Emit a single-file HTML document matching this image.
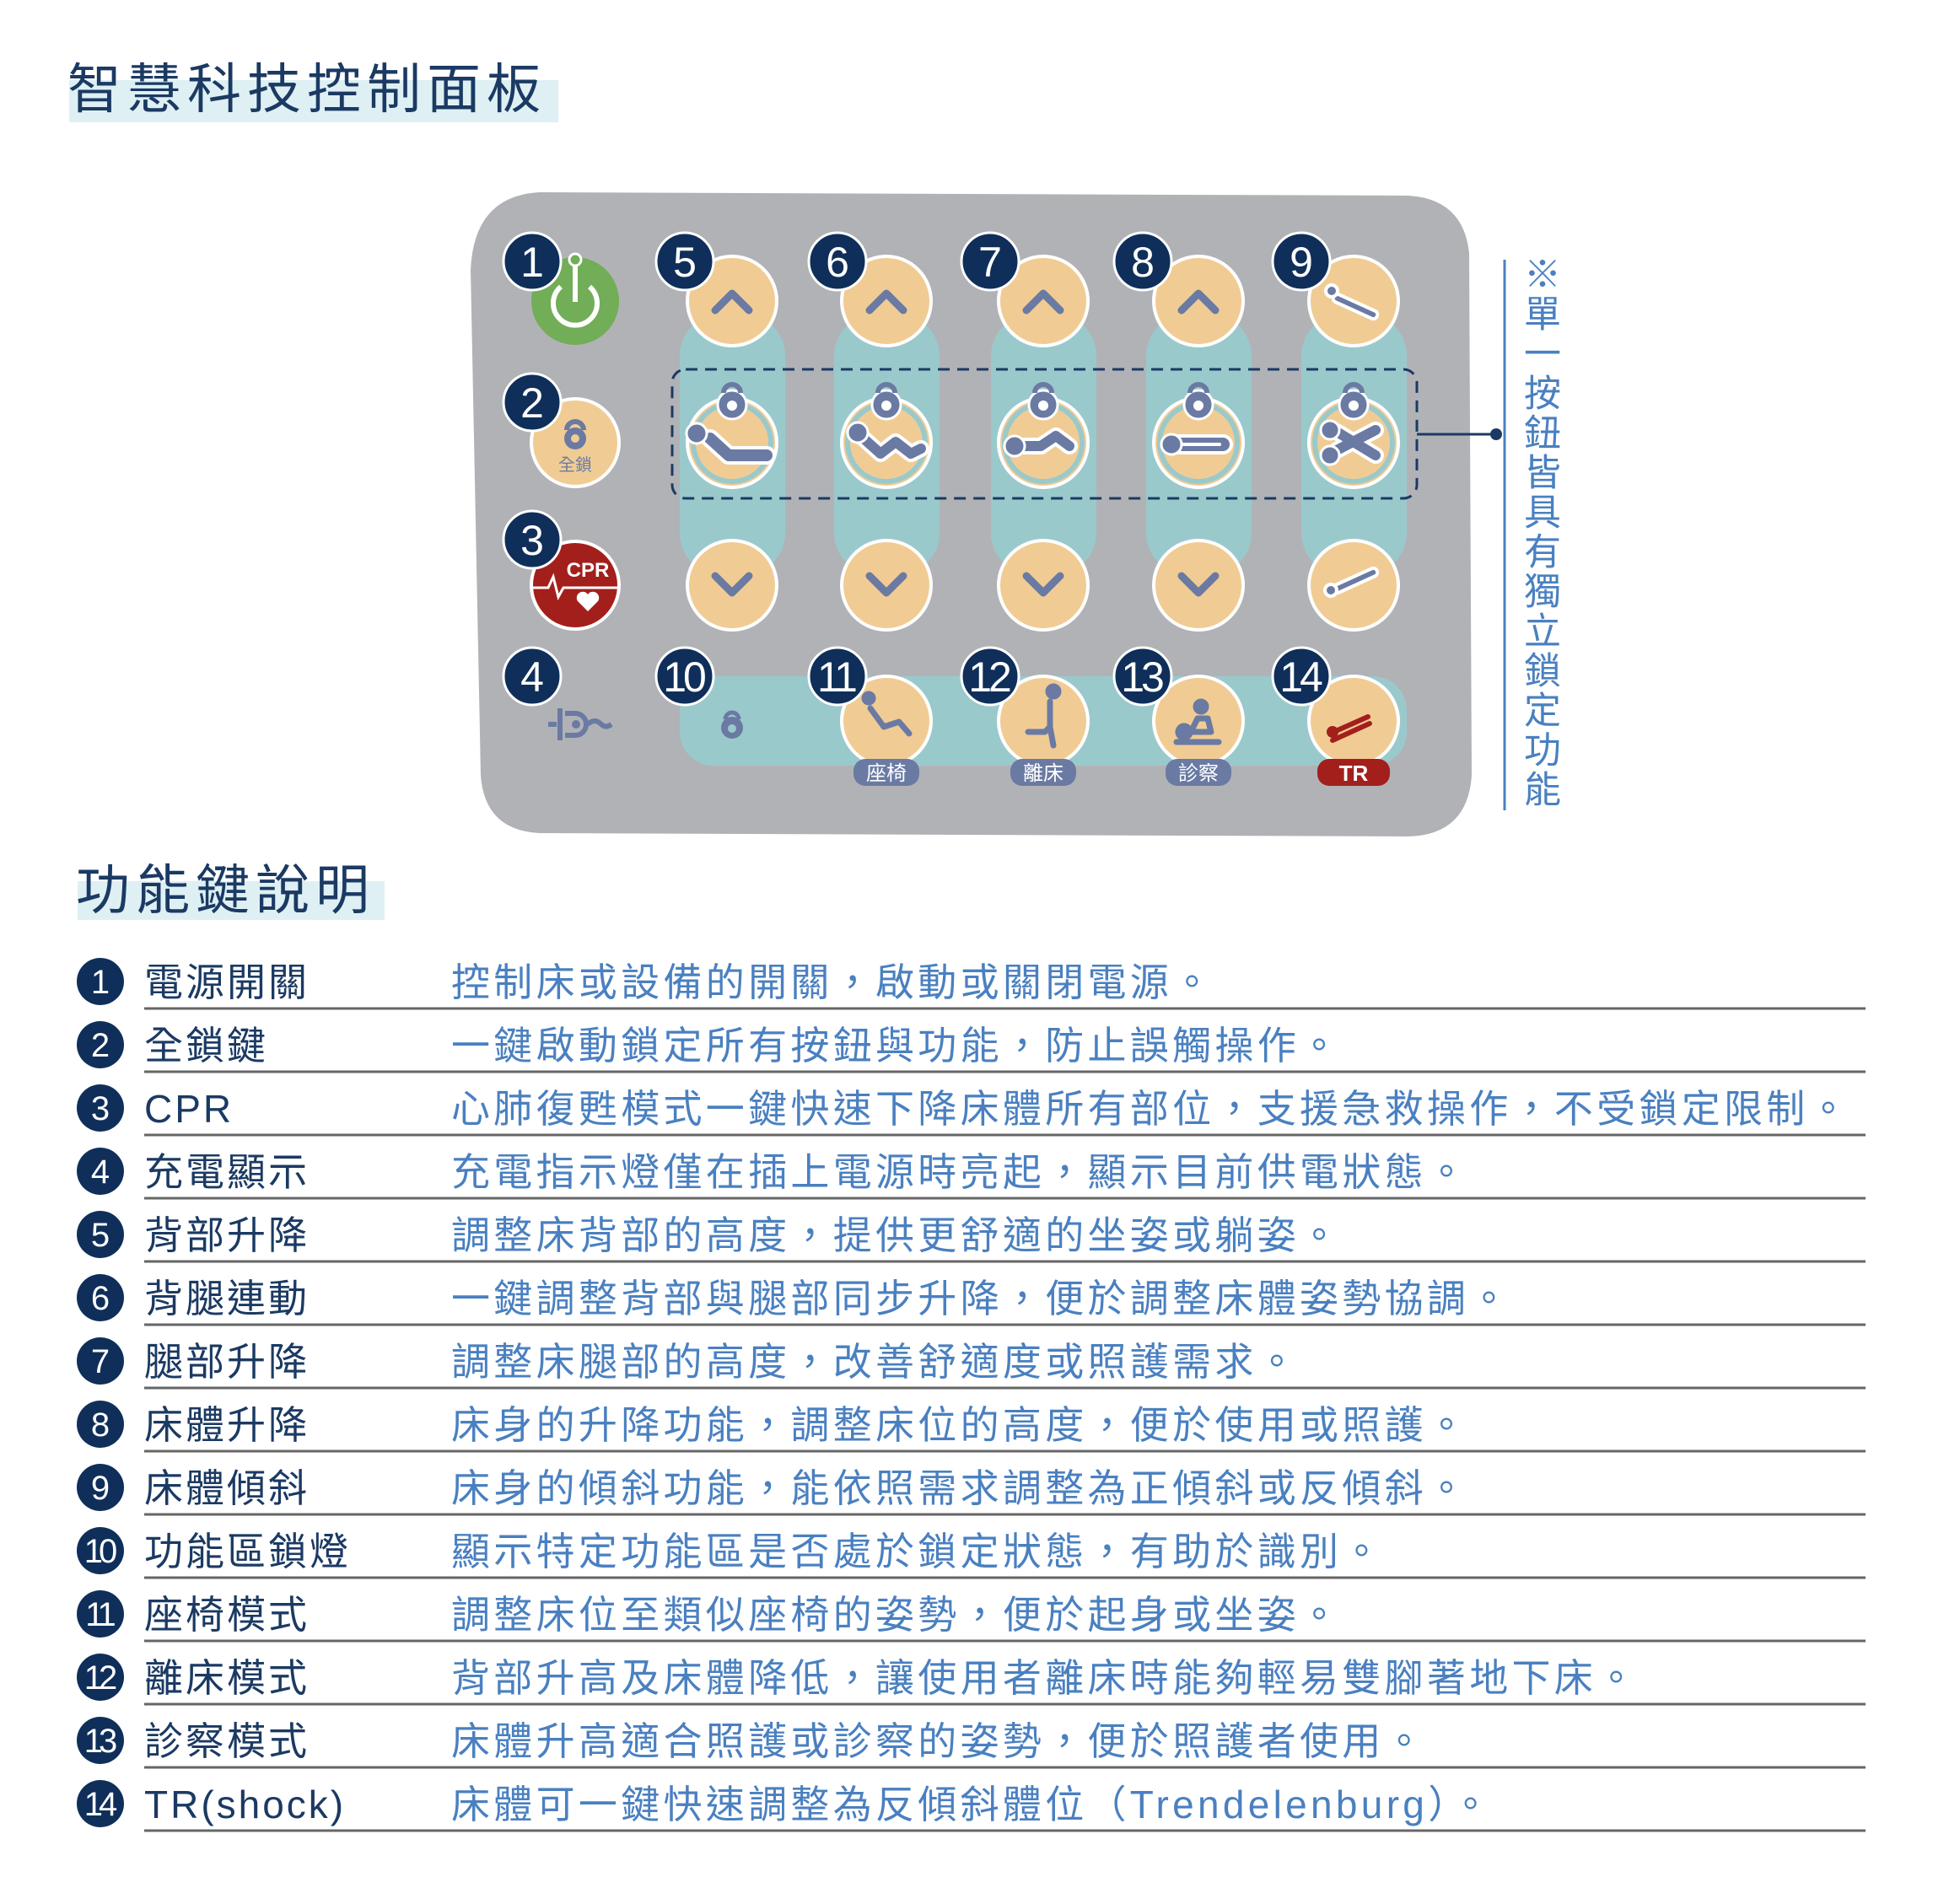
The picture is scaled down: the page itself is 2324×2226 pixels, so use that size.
<!DOCTYPE html>
<html><head><meta charset="utf-8">
<style>
html,body{margin:0;padding:0;background:#fff;}
body{width:2324px;height:2226px;position:relative;overflow:hidden;font-family:"Liberation Sans","Noto Sans CJK TC",sans-serif;}
svg{position:absolute;left:0;top:0;}
.vt{position:absolute;left:1800px;top:302px;writing-mode:vertical-rl;font-size:44px;letter-spacing:3px;color:#4a80c0;font-family:"Liberation Sans","Noto Sans CJK TC",sans-serif;line-height:48px;}
</style></head><body>
<svg width="2324" height="2226" viewBox="0 0 2324 2226" xmlns="http://www.w3.org/2000/svg" font-family="Liberation Sans, Noto Sans CJK TC, sans-serif">
<rect x="82" y="95" width="580" height="50" fill="#dff0f4"/>
<text x="80" y="128" font-size="64" letter-spacing="7" fill="#1b3a63">智慧科技控制面板</text>
<path d="M640,228 L1670,232 Q1735,236 1742,300 L1745,920 Q1740,990 1670,992 L640,988 Q575,985 570,920 L558,320 Q562,232 640,228 Z" fill="#b1b2b6"/>
<g fill="#9ac9cc">
<rect x="806" y="372" width="125" height="310" rx="50"/>
<rect x="989" y="372" width="125" height="310" rx="50"/>
<rect x="1175" y="372" width="125" height="310" rx="50"/>
<rect x="1359" y="372" width="125" height="310" rx="50"/>
<rect x="1543" y="372" width="125" height="310" rx="50"/>
<rect x="806" y="802" width="862" height="106" rx="40"/>
</g>
<rect x="797" y="438" width="883" height="153" rx="16" fill="none" stroke="#1b3a63" stroke-width="3" stroke-dasharray="14,9"/>
<line x1="1680" y1="515" x2="1772" y2="515" stroke="#1b3a63" stroke-width="3"/>
<circle cx="1774" cy="515" r="7" fill="#1b3a63"/>
<line x1="1784" y1="308" x2="1784" y2="961" stroke="#4a80c0" stroke-width="3"/>
<circle cx="682" cy="357" r="52" fill="#72ad57"/>
<path d="M665,340 A26,26 0 1 0 699,340" fill="none" stroke="#fff" stroke-width="6"/>
<line x1="682" y1="312" x2="682" y2="358" stroke="#fff" stroke-width="6"/>
<circle cx="682" cy="308" r="7" fill="#72ad57" stroke="#fff" stroke-width="3"/>
<circle cx="682" cy="525" r="52" fill="#f0cc94" stroke="#fff" stroke-width="4"/>
<path d="M672,510 a10,10 0 0 1 20,0" fill="none" stroke="#6a7aa3" stroke-width="6"/>
<circle cx="682" cy="520" r="13" fill="#6a7aa3"/><circle cx="682" cy="520" r="5" fill="#f0cc94"/>
<text x="682" y="558" font-size="20" fill="#6a7aa3" text-anchor="middle">全鎖</text>
<circle cx="682" cy="694" r="52" fill="#a31f1c" stroke="#fff" stroke-width="4"/>
<text x="697" y="684" font-size="24" font-weight="bold" fill="#fff" text-anchor="middle">CPR</text>
<polyline points="632,697 650,697 656,684 662,708 668,697 732,697" fill="none" stroke="#fff" stroke-width="3"/>
<path d="M697,725 l-12,-12 a7,7 0 0 1 12,-8 a7,7 0 0 1 12,8 z" fill="#fff"/>
<g stroke="#6a7aa3" stroke-width="6" fill="none">
<path d="M664,840 v38 M660,859 h-10"/><path d="M670,846 h12 a13,13 0 0 1 0,26 h-12"/>
<path d="M697,859 q8,-8 16,0 q5,5 12,0"/>
</g>
<circle cx="683" cy="859" r="5" fill="#6a7aa3"/>
<g fill="#f0cc94" stroke="#fff" stroke-width="4">
<circle cx="868" cy="357" r="53"/><circle cx="1051" cy="357" r="53"/><circle cx="1237" cy="357" r="53"/><circle cx="1421" cy="357" r="53"/><circle cx="1605" cy="357" r="53"/>
<circle cx="868" cy="694" r="53"/><circle cx="1051" cy="694" r="53"/><circle cx="1237" cy="694" r="53"/><circle cx="1421" cy="694" r="53"/><circle cx="1605" cy="694" r="53"/>
</g>
<g fill="none" stroke="#6a7aa3" stroke-width="9" stroke-linecap="round" stroke-linejoin="round">
<path d="M848,368 l20,-20 l20,20"/><path d="M1031,368 l20,-20 l20,20"/><path d="M1217,368 l20,-20 l20,20"/><path d="M1401,368 l20,-20 l20,20"/>
<path d="M848,683 l20,20 l20,-20"/><path d="M1031,683 l20,20 l20,-20"/><path d="M1217,683 l20,20 l20,-20"/><path d="M1401,683 l20,20 l20,-20"/>
</g>
<g stroke="#fff" stroke-width="4" fill="#6a7aa3">
<path d="M1587,349 l44,20 a5,5 0 0 1 -4,9 l-44,-20 a5,5 0 0 1 4,-9z"/><circle cx="1579" cy="345" r="7"/>
<path d="M1583,694 l44,-20 a5,5 0 0 1 4,9 l-44,20 a5,5 0 0 1 -4,-9z"/><circle cx="1578" cy="700" r="7"/>
</g>
<g fill="#f0cc94" stroke="#fff" stroke-width="4">
<circle cx="868" cy="525" r="53"/><circle cx="1051" cy="525" r="53"/><circle cx="1237" cy="525" r="53"/><circle cx="1421" cy="525" r="53"/><circle cx="1605" cy="525" r="53"/>
</g>
<g fill="none" stroke="#9ac9cc" stroke-width="6">
<circle cx="868" cy="525" r="46"/><circle cx="1051" cy="525" r="46"/><circle cx="1237" cy="525" r="46"/><circle cx="1421" cy="525" r="46"/><circle cx="1605" cy="525" r="46"/>
</g>
<g fill="#6a7aa3" stroke="#fff" stroke-width="3"><circle cx="868" cy="480" r="17"/><circle cx="1051" cy="480" r="17"/><circle cx="1237" cy="480" r="17"/><circle cx="1421" cy="480" r="17"/><circle cx="1605" cy="480" r="17"/></g>
<g fill="none" stroke="#6a7aa3" stroke-width="6"><path d="M858,466 a10,10 0 0 1 20,0"/><path d="M1041,466 a10,10 0 0 1 20,0"/><path d="M1227,466 a10,10 0 0 1 20,0"/><path d="M1411,466 a10,10 0 0 1 20,0"/><path d="M1595,466 a10,10 0 0 1 20,0"/></g>
<g fill="#fff"><circle cx="868" cy="481" r="6"/><circle cx="1051" cy="481" r="6"/><circle cx="1237" cy="481" r="6"/><circle cx="1421" cy="481" r="6"/><circle cx="1605" cy="481" r="6"/></g>
<g fill="none" stroke-linecap="round" stroke-linejoin="round">
<path d="M842,520 l22,20 h45" stroke="#fff" stroke-width="22"/><path d="M842,520 l22,20 h45" stroke="#6a7aa3" stroke-width="14"/>
<path d="M1024,520 l20,18 l18,-14 l18,14 l12,-6" stroke="#fff" stroke-width="20"/><path d="M1024,520 l20,18 l18,-14 l18,14 l12,-6" stroke="#6a7aa3" stroke-width="12"/>
<path d="M1212,529 h22 l18,-12 l16,12" stroke="#fff" stroke-width="20"/><path d="M1212,529 h22 l18,-12 l16,12" stroke="#6a7aa3" stroke-width="12"/>
<path d="M1396,527 h54" stroke="#fff" stroke-width="24"/><path d="M1396,527 h54" stroke="#6a7aa3" stroke-width="16"/><path d="M1402,527 h44" stroke="#fff" stroke-width="4"/>
<path d="M1585,534 l46,-24 M1585,512 l46,28" stroke="#fff" stroke-width="20"/><path d="M1585,534 l46,-24 M1585,512 l46,28" stroke="#6a7aa3" stroke-width="12"/>
</g>
<g fill="#6a7aa3" stroke="#fff" stroke-width="3">
<circle cx="826" cy="514" r="12"/><circle cx="1017" cy="513" r="12"/><circle cx="1203" cy="529" r="12"/><circle cx="1389" cy="527" r="12"/><circle cx="1577" cy="510" r="11"/><circle cx="1577" cy="540" r="11"/>
</g>
<circle cx="868" cy="863" r="13" fill="#6a7aa3"/>
<path d="M860,853 a8,8 0 0 1 16,0" fill="none" stroke="#6a7aa3" stroke-width="5"/>
<circle cx="868" cy="864" r="5" fill="#9ac9cc"/>
<g fill="#f0cc94" stroke="#fff" stroke-width="4">
<circle cx="1051" cy="855" r="53"/><circle cx="1237" cy="855" r="53"/><circle cx="1421" cy="855" r="53"/><circle cx="1605" cy="855" r="53"/>
</g>
<g fill="none" stroke="#6a7aa3" stroke-width="7" stroke-linecap="round" stroke-linejoin="round">
<path d="M1032,840 l16,22 l18,-6 l12,14"/>
<circle cx="1030" cy="828" r="5" fill="#6a7aa3"/>
<path d="M1245,832 v30 l-6,6 h-20 M1245,862 l4,22"/>
<circle cx="1249" cy="820" r="6" fill="#6a7aa3"/>
<path d="M1395,880 h50 M1420,852 l-8,16 h24 l-4,-16z"/>
<circle cx="1404" cy="868" r="7" fill="#6a7aa3"/><circle cx="1424" cy="838" r="6" fill="#6a7aa3"/>
</g>
<g stroke="#a31f1c" stroke-width="6" stroke-linecap="round" fill="none">
<path d="M1586,866 l36,-16 M1580,878 l44,-20"/>
</g>
<circle cx="1580" cy="868" r="7" fill="#a31f1c"/>
<rect x="1012" y="900" width="78" height="32" rx="14" fill="#6a7aa3"/><text x="1051" y="925" font-size="24" fill="#fff" text-anchor="middle">座椅</text>
<rect x="1198" y="900" width="78" height="32" rx="14" fill="#6a7aa3"/><text x="1237" y="925" font-size="24" fill="#fff" text-anchor="middle">離床</text>
<rect x="1382" y="900" width="78" height="32" rx="14" fill="#6a7aa3"/><text x="1421" y="925" font-size="24" fill="#fff" text-anchor="middle">診察</text>
<rect x="1562" y="900" width="86" height="32" rx="14" fill="#a31f1c"/><text x="1605" y="926" font-size="26" font-weight="bold" fill="#fff" text-anchor="middle">TR</text>
<g fill="#0f2f5a" stroke="#fff" stroke-width="3">
<circle cx="631" cy="310" r="34"/><circle cx="631" cy="477" r="34"/><circle cx="631" cy="640" r="34"/><circle cx="631" cy="802" r="34"/>
<circle cx="812" cy="310" r="34"/><circle cx="993" cy="310" r="34"/><circle cx="1174" cy="310" r="34"/><circle cx="1355" cy="310" r="34"/><circle cx="1543" cy="310" r="34"/>
<circle cx="812" cy="802" r="34"/><circle cx="993" cy="802" r="34"/><circle cx="1174" cy="802" r="34"/><circle cx="1355" cy="802" r="34"/><circle cx="1543" cy="802" r="34"/>
</g>
<g fill="#fff" font-size="50" text-anchor="middle">
<text x="631" y="328">1</text><text x="631" y="495">2</text><text x="631" y="658">3</text><text x="631" y="820">4</text>
<text x="812" y="328">5</text><text x="993" y="328">6</text><text x="1174" y="328">7</text><text x="1355" y="328">8</text><text x="1543" y="328">9</text>
<g letter-spacing="-4"><text x="810" y="820">10</text><text x="991" y="820">11</text><text x="1172" y="820">12</text><text x="1353" y="820">13</text><text x="1541" y="820">14</text></g>
</g>
<rect x="92" y="1045" width="364" height="46" fill="#dff0f4"/>
<text x="90" y="1078" font-size="64" letter-spacing="7" fill="#1b3a63">功能鍵說明</text>
<g stroke="#666" stroke-width="3">
<line x1="171" y1="1196" x2="2212" y2="1196"/><line x1="171" y1="1271" x2="2212" y2="1271"/><line x1="171" y1="1346" x2="2212" y2="1346"/><line x1="171" y1="1421" x2="2212" y2="1421"/><line x1="171" y1="1496" x2="2212" y2="1496"/><line x1="171" y1="1571" x2="2212" y2="1571"/><line x1="171" y1="1646" x2="2212" y2="1646"/><line x1="171" y1="1721" x2="2212" y2="1721"/><line x1="171" y1="1796" x2="2212" y2="1796"/><line x1="171" y1="1871" x2="2212" y2="1871"/><line x1="171" y1="1946" x2="2212" y2="1946"/><line x1="171" y1="2021" x2="2212" y2="2021"/><line x1="171" y1="2096" x2="2212" y2="2096"/><line x1="171" y1="2171" x2="2212" y2="2171"/>
</g>
<g fill="#0f2f5a">
<circle cx="119" cy="1164" r="28"/><circle cx="119" cy="1239" r="28"/><circle cx="119" cy="1314" r="28"/><circle cx="119" cy="1389" r="28"/><circle cx="119" cy="1464" r="28"/><circle cx="119" cy="1539" r="28"/><circle cx="119" cy="1614" r="28"/><circle cx="119" cy="1689" r="28"/><circle cx="119" cy="1764" r="28"/><circle cx="119" cy="1839" r="28"/><circle cx="119" cy="1914" r="28"/><circle cx="119" cy="1989" r="28"/><circle cx="119" cy="2064" r="28"/><circle cx="119" cy="2139" r="28"/>
</g>
<g fill="#fff" font-size="40" text-anchor="middle">
<text x="119" y="1178">1</text><text x="119" y="1253">2</text><text x="119" y="1328">3</text><text x="119" y="1403">4</text><text x="119" y="1478">5</text><text x="119" y="1553">6</text><text x="119" y="1628">7</text><text x="119" y="1703">8</text><text x="119" y="1778">9</text>
<g letter-spacing="-5"><text x="117" y="1853">10</text><text x="117" y="1928">11</text><text x="117" y="2003">12</text><text x="117" y="2078">13</text><text x="117" y="2153">14</text></g>
</g>
<g fill="#1b3a63" font-size="46" letter-spacing="3">
<text x="171" y="1181">電源開關</text><text x="171" y="1256">全鎖鍵</text><text x="171" y="1331">CPR</text><text x="171" y="1406">充電顯示</text><text x="171" y="1481">背部升降</text><text x="171" y="1556">背腿連動</text><text x="171" y="1631">腿部升降</text><text x="171" y="1706">床體升降</text><text x="171" y="1781">床體傾斜</text><text x="171" y="1856">功能區鎖燈</text><text x="171" y="1931">座椅模式</text><text x="171" y="2006">離床模式</text><text x="171" y="2081">診察模式</text><text x="171" y="2156">TR(shock)</text>
</g>
<g fill="#4a80c0" font-size="46" letter-spacing="4.3">
<text x="535" y="1181">控制床或設備的開關，啟動或關閉電源。</text>
<text x="535" y="1256">一鍵啟動鎖定所有按鈕與功能，防止誤觸操作。</text>
<text x="535" y="1331">心肺復甦模式一鍵快速下降床體所有部位，支援急救操作，不受鎖定限制。</text>
<text x="535" y="1406">充電指示燈僅在插上電源時亮起，顯示目前供電狀態。</text>
<text x="535" y="1481">調整床背部的高度，提供更舒適的坐姿或躺姿。</text>
<text x="535" y="1556">一鍵調整背部與腿部同步升降，便於調整床體姿勢協調。</text>
<text x="535" y="1631">調整床腿部的高度，改善舒適度或照護需求。</text>
<text x="535" y="1706">床身的升降功能，調整床位的高度，便於使用或照護。</text>
<text x="535" y="1781">床身的傾斜功能，能依照需求調整為正傾斜或反傾斜。</text>
<text x="535" y="1856">顯示特定功能區是否處於鎖定狀態，有助於識別。</text>
<text x="535" y="1931">調整床位至類似座椅的姿勢，便於起身或坐姿。</text>
<text x="535" y="2006">背部升高及床體降低，讓使用者離床時能夠輕易雙腳著地下床。</text>
<text x="535" y="2081">床體升高適合照護或診察的姿勢，便於照護者使用。</text>
<text x="535" y="2156">床體可一鍵快速調整為反傾斜體位（Trendelenburg）。</text>
</g>
</svg>
<div class="vt">※單一按鈕皆具有獨立鎖定功能</div>
</body></html>
